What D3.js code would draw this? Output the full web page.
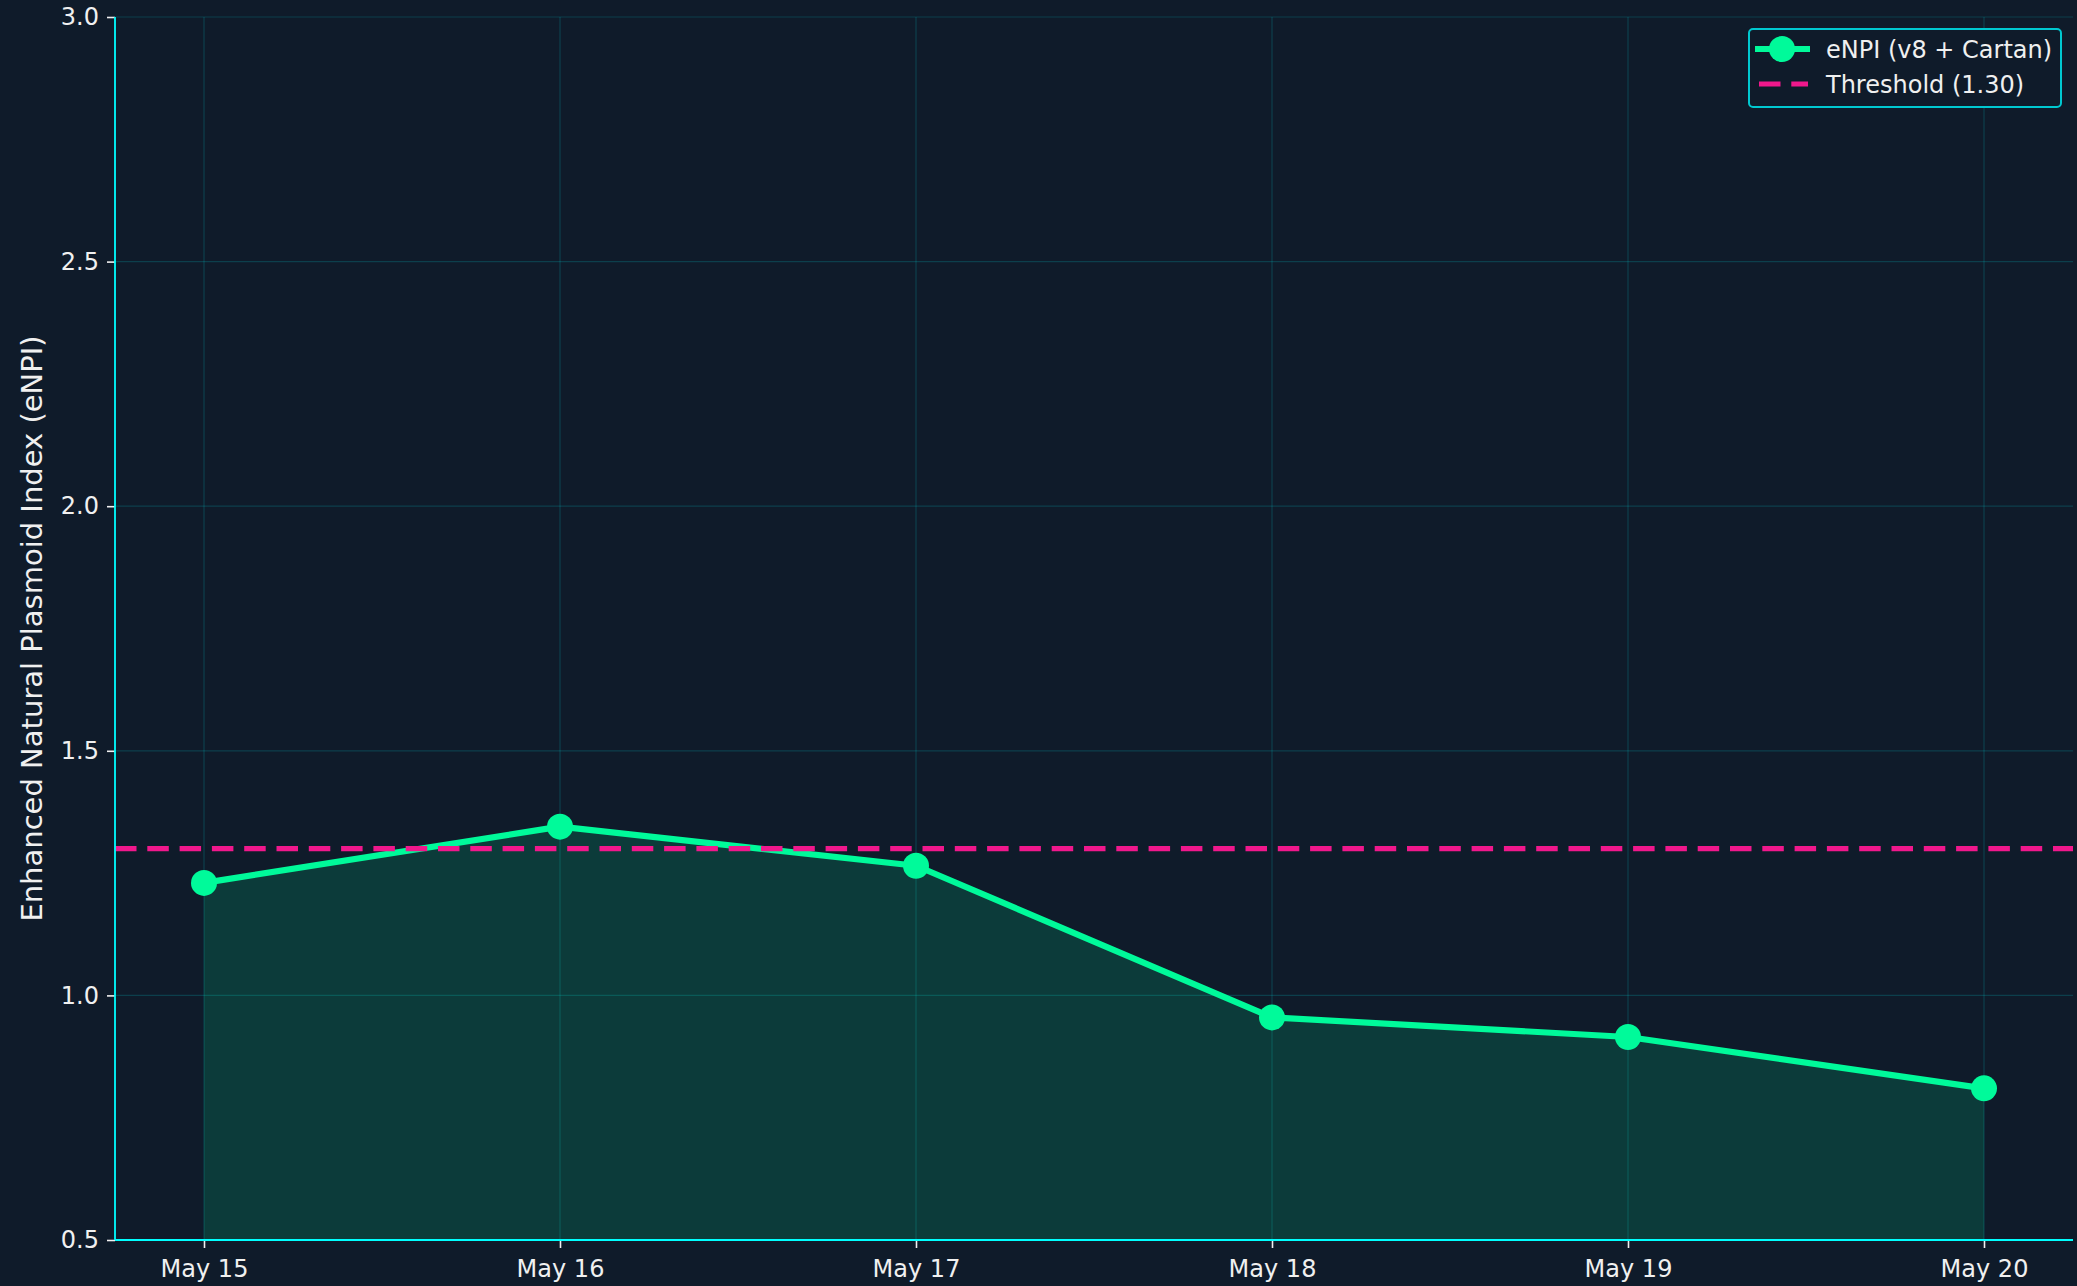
<!DOCTYPE html>
<meta charset="utf-8">
<head>
    <script src="https://d3js.org/d3.v7.min.js"></script>
</head>
<style>
    html, body { margin: 0; padding: 0; background: #0f1b2a; }
    svg { display: block; font-family: 'DejaVu Sans', sans-serif; }
    .tick text { fill: #f0f0f0; font-size: 24px; }
    .tick line { stroke: #f0f0f0; stroke-width: 1.6; }
    .grid line { stroke: #00ffff; stroke-opacity: 0.16; stroke-width: 1.2; }
    .legend text { fill: #f0f0f0; font-size: 24px; }
</style>
<svg width="2077" height="1286"></svg>
<script>
    // data
    var days = ["May 15", "May 16", "May 17", "May 18", "May 19", "May 20"];
    var enpi = [1.23, 1.345, 1.265, 0.955, 0.915, 0.81];
    var threshold = 1.30;
    var yTicks = [0.5, 1.0, 1.5, 2.0, 2.5, 3.0];

    var svg = d3.select("svg");
    var mLeft = 115, mRight = 2073, mTop = 17, mBottom = 1240;

    var x = d3.scaleLinear().domain([-0.25, days.length - 0.75]).range([mLeft, mRight]);
    var y = d3.scaleLinear().domain([0.5, 3.0]).range([mBottom, mTop]);

    svg.append("rect").attr("width", 2077).attr("height", 1286).attr("fill", "#0f1b2a");

    // grid
    var grid = svg.append("g").attr("class", "grid");
    grid.selectAll(".gy").data(yTicks).enter().append("line")
        .attr("x1", mLeft).attr("x2", mRight)
        .attr("y1", function(d) { return y(d); }).attr("y2", function(d) { return y(d); });
    grid.selectAll(".gx").data(days).enter().append("line")
        .attr("y1", mTop).attr("y2", mBottom)
        .attr("x1", function(d, i) { return x(i); }).attr("x2", function(d, i) { return x(i); });

    // area
    var area = d3.area()
        .x(function(d, i) { return x(i); })
        .y0(y(0.5))
        .y1(function(d) { return y(d); });
    svg.append("path").datum(enpi)
        .attr("d", area)
        .attr("fill", "#00fa9a")
        .attr("fill-opacity", 0.15);

    // line
    var line = d3.line()
        .x(function(d, i) { return x(i); })
        .y(function(d) { return y(d); });
    svg.append("path").datum(enpi)
        .attr("d", line)
        .attr("fill", "none")
        .attr("stroke", "#00fa9a")
        .attr("stroke-width", 6.2)
        .attr("stroke-linejoin", "round");
    svg.selectAll(".dot").data(enpi).enter().append("circle")
        .attr("cx", function(d, i) { return x(i); })
        .attr("cy", function(d) { return y(d); })
        .attr("r", 13)
        .attr("fill", "#00fa9a");

    // threshold
    svg.append("line")
        .attr("x1", mLeft).attr("x2", mRight)
        .attr("y1", y(threshold)).attr("y2", y(threshold))
        .attr("stroke", "#f0188c")
        .attr("stroke-width", 5.2)
        .attr("stroke-dasharray", "21.5,10.8");

    // axes
    var xAxis = d3.axisBottom(x)
        .tickValues(d3.range(days.length))
        .tickFormat(function(i) { return days[i]; })
        .tickSize(8).tickPadding(12);
    var gx = svg.append("g").attr("transform", "translate(0," + mBottom + ")").call(xAxis);
    var yAxis = d3.axisLeft(y)
        .tickValues(yTicks)
        .tickFormat(d3.format(".1f"))
        .tickSize(8).tickPadding(8);
    var gy = svg.append("g").attr("transform", "translate(" + mLeft + ",0)").call(yAxis);
    [gx, gy].forEach(function(g) {
        g.select(".domain").remove();
        g.attr("font-family", null).attr("font-size", null);
    });

    svg.append("line").attr("x1", mLeft).attr("x2", mLeft).attr("y1", mTop).attr("y2", mBottom)
        .attr("stroke", "#00ffff").attr("stroke-width", 1.8);
    svg.append("line").attr("x1", mLeft).attr("x2", mRight).attr("y1", mBottom).attr("y2", mBottom)
        .attr("stroke", "#00ffff").attr("stroke-width", 1.8);

    // y label
    svg.append("text")
        .attr("transform", "translate(42," + ((mTop + mBottom) / 2) + ") rotate(-90)")
        .attr("text-anchor", "middle")
        .attr("fill", "#f0f0f0")
        .attr("font-size", 29)
        .text("Enhanced Natural Plasmoid Index (eNPI)");

    // legend
    var lg = svg.append("g").attr("class", "legend");
    lg.append("rect")
        .attr("x", 1749).attr("y", 29).attr("width", 312).attr("height", 78)
        .attr("rx", 4)
        .attr("fill", "#0f1b2a")
        .attr("stroke", "#00c8d0").attr("stroke-width", 2);
    lg.append("line").attr("x1", 1755).attr("x2", 1810).attr("y1", 49).attr("y2", 49)
        .attr("stroke", "#00fa9a").attr("stroke-width", 6.2);
    lg.append("circle").attr("cx", 1782).attr("cy", 49).attr("r", 13).attr("fill", "#00fa9a");
    lg.append("text").attr("x", 1826).attr("y", 58).text("eNPI (v8 + Cartan)");
    lg.append("line").attr("x1", 1759).attr("x2", 1808).attr("y1", 84).attr("y2", 84)
        .attr("stroke", "#f0188c").attr("stroke-width", 5.2)
        .attr("stroke-dasharray", "21.5,10.8");
    lg.append("text").attr("x", 1826).attr("y", 93).text("Threshold (1.30)");
</script>
